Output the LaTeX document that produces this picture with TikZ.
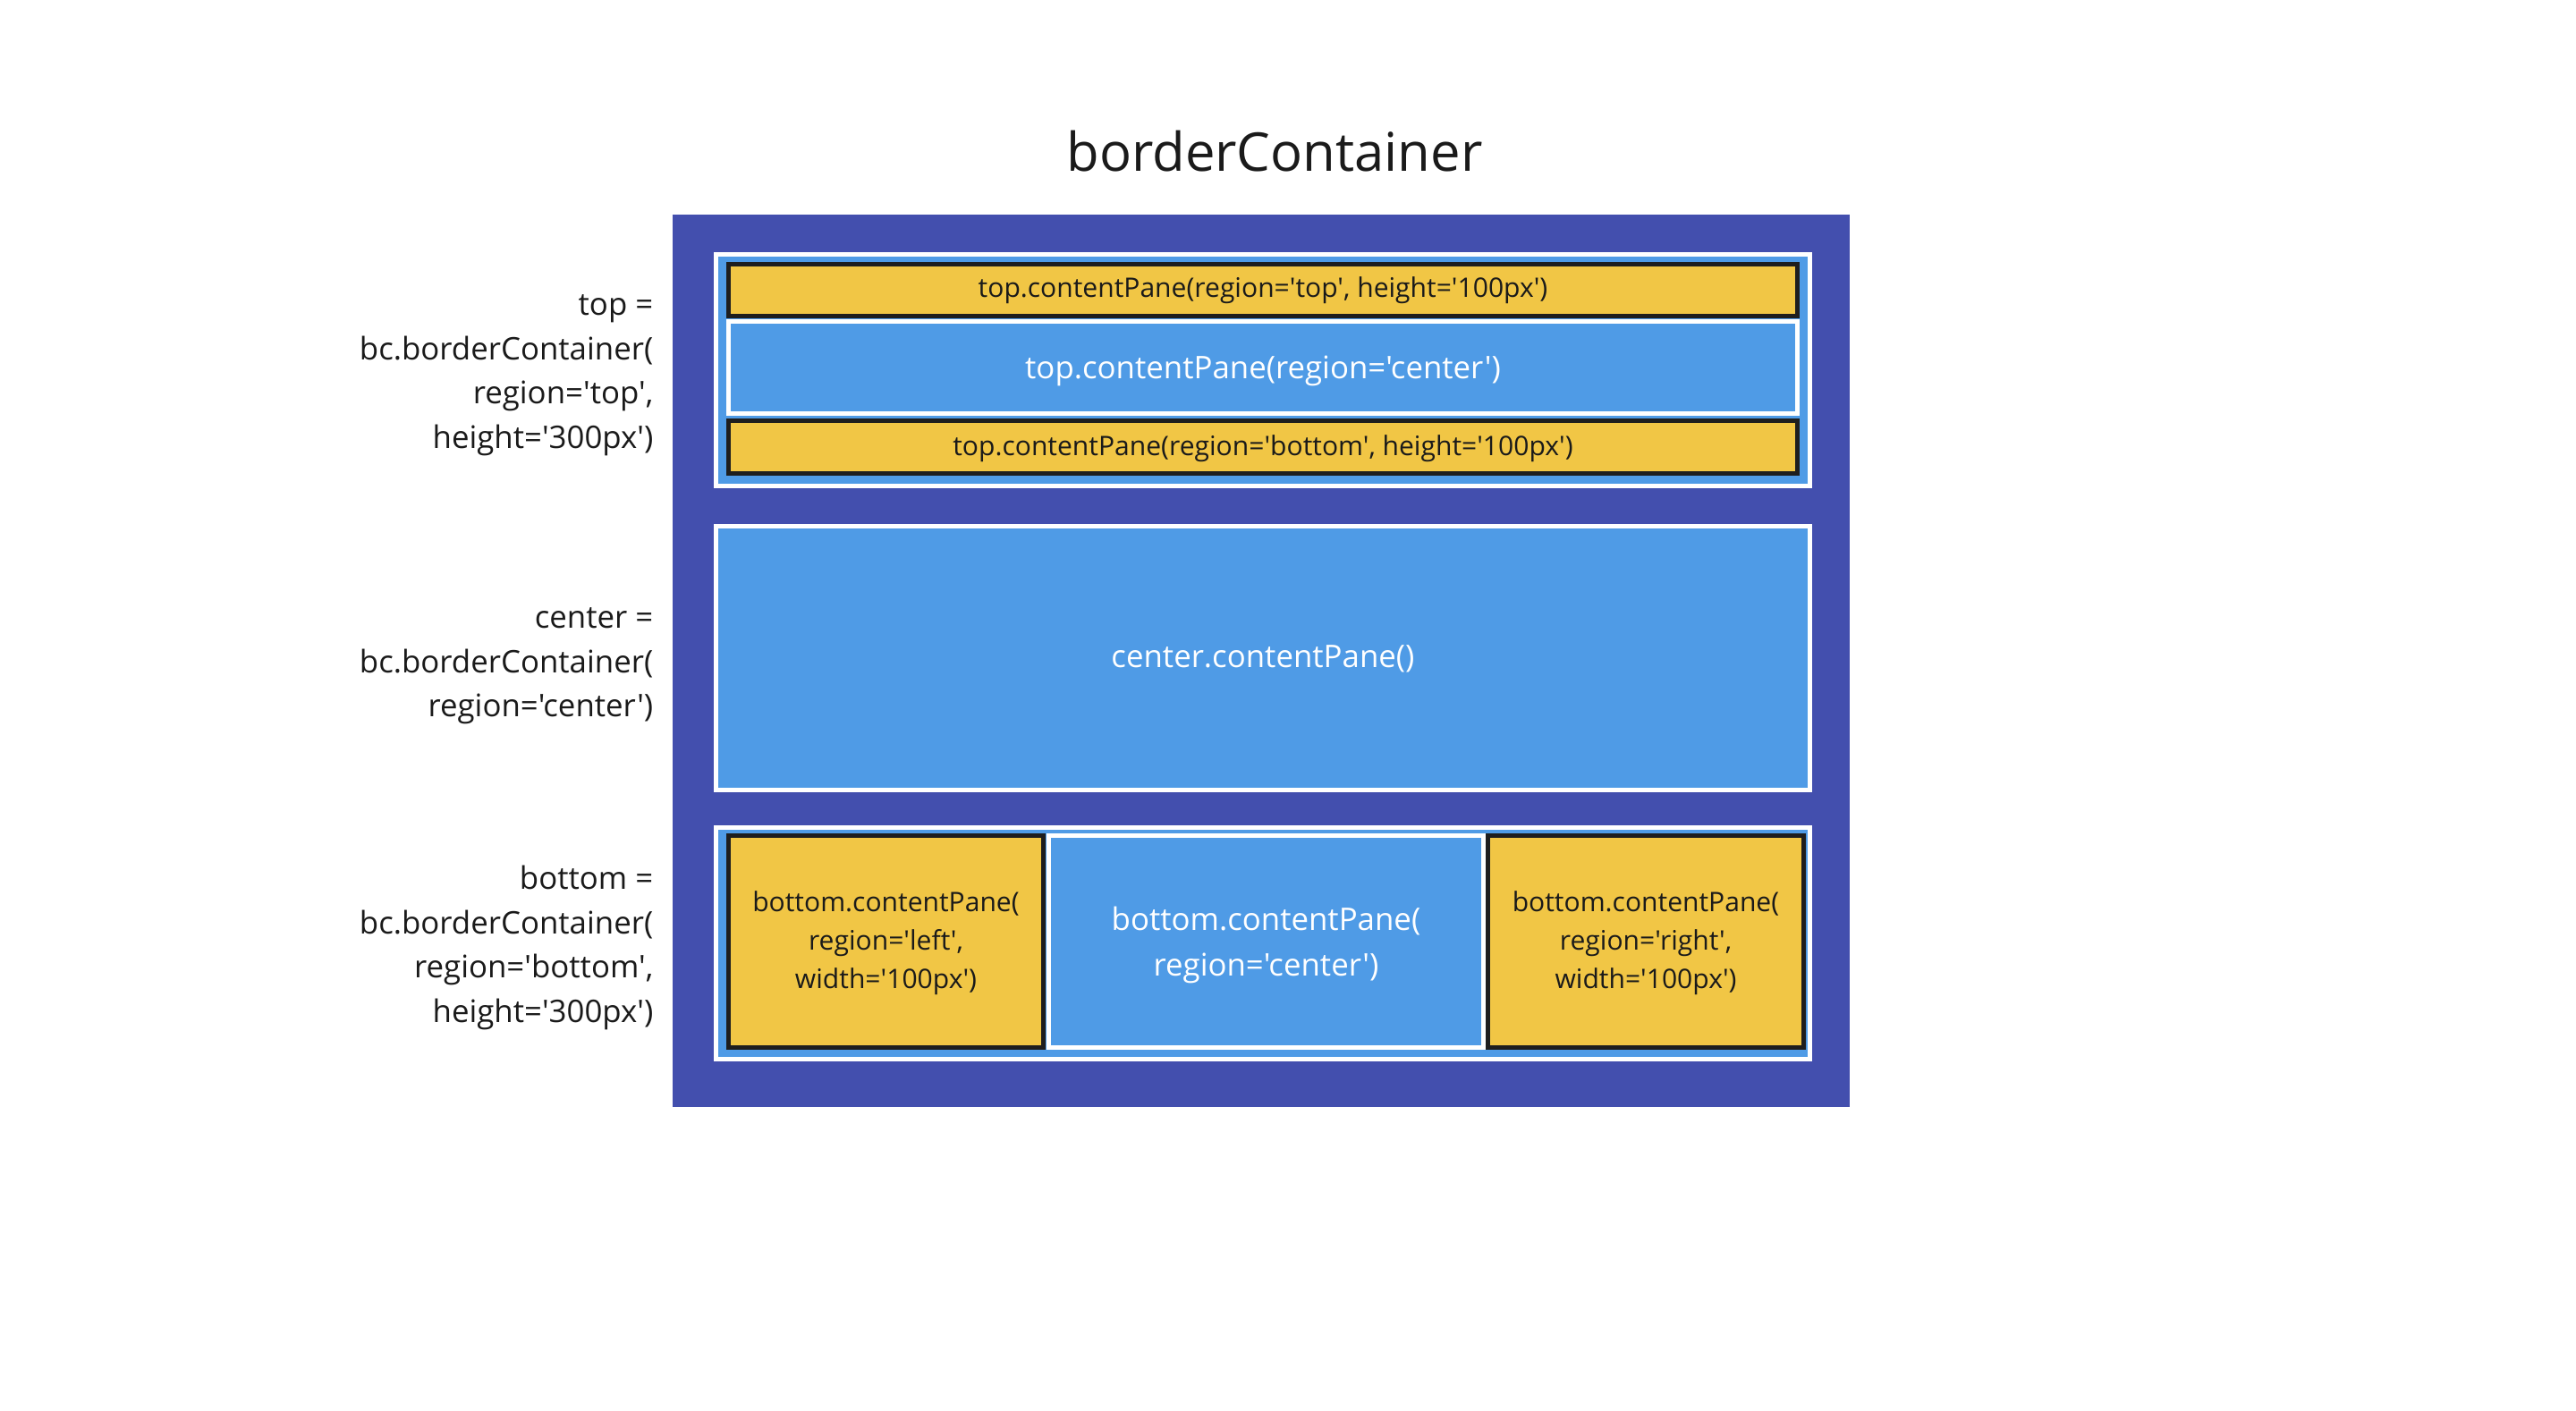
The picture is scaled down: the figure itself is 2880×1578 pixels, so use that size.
\documentclass[tikz,border=0pt]{standalone}
\usepackage{fontspec}
\newfontfamily\osans{Open Sans}
\definecolor{dblue}{HTML}{434FAE}
\definecolor{lblue}{HTML}{4F9BE6}
\definecolor{yell}{HTML}{F1C645}
\definecolor{bdark}{HTML}{1E1E1E}
\definecolor{tdark}{HTML}{1A1A1A}
\tikzset{
  pane/.style={draw=white, line width=1.42pt, fill=lblue, inner sep=0pt, outer sep=0pt},
  ybox/.style={draw=bdark, line width=1.35pt, fill=yell, inner sep=0pt, outer sep=0pt},
  ytext/.style={text=tdark, inner sep=0pt, font=\osans\fontsize{8.55pt}{12.2pt}\selectfont, align=center},
  wtext/.style={text=white, inner sep=0pt, font=\osans\fontsize{9.9pt}{14.5pt}\selectfont, align=center},
  lbl/.style={anchor=east, text=tdark, align=right, font=\osans\fontsize{9.9pt}{14.1pt}\selectfont, inner sep=0pt},
}
\begin{document}
\begin{tikzpicture}[x=0.01cm, y=-0.01cm]
\useasboundingbox (0,0) rectangle (2880,1578);
\fill[white] (0,0) rectangle (2880,1578);
% title
\node[anchor=base, text=tdark, font=\osans\fontsize{17pt}{20pt}\selectfont, inner sep=0pt] (title) at (1425,191.5) {borderContainer};
% outer container
\node[fill=dblue, minimum width=13.16cm, minimum height=9.98cm, inner sep=0pt, outer sep=0pt] (outer) at (1410,739) {};
% top container
\node[pane, minimum width=12.23cm, minimum height=2.59cm] (topc) at (1412,414) {};
\node[ybox, minimum width=11.95cm, minimum height=0.58cm] (topt) at (1412,324.5) {};
\node[pane, minimum width=11.95cm, minimum height=1.03cm] (topm) at (1412,411) {};
\node[ybox, minimum width=11.95cm, minimum height=0.59cm] (topb) at (1412,500) {};
\node[ytext] (topttx) at (1412,324.5) {top.contentPane(region='top', height='100px')};
\node[wtext] (topmtx) at (1412,415) {top.contentPane(region='center')};
\node[ytext] (topbtx) at (1412,502) {top.contentPane(region='bottom', height='100px')};
% center container
\node[pane, minimum width=12.23cm, minimum height=2.95cm] (cenc) at (1412,736) {};
\node[wtext] (cenctx) at (1412,737) {center.contentPane()};
% bottom container
\node[pane, minimum width=12.23cm, minimum height=2.59cm] (botc) at (1412,1055) {};
\node[ybox, minimum width=3.52cm, minimum height=2.37cm] (botl) at (990.5,1053) {};
\node[pane, minimum width=4.86cm, minimum height=2.37cm] (botm) at (1415.5,1053) {};
\node[ybox, minimum width=3.53cm, minimum height=2.37cm] (botr) at (1840,1053) {};
\node[ytext] (botltx) at (990.5,1055) {bottom.contentPane(\\region='left',\\width='100px')};
\node[wtext] (botmtx) at (1415.5,1057) {bottom.contentPane(\\region='center')};
\node[ytext] (botrtx) at (1840,1055) {bottom.contentPane(\\region='right',\\width='100px')};
% left labels
\node[lbl] (ltop) at (731,419.5) {top =\\bc.borderContainer(\\region='top',\\height='300px')};
\node[lbl] (lcen) at (731,745) {center =\\bc.borderContainer(\\region='center')};
\node[lbl] (lbot) at (731,1060) {bottom =\\bc.borderContainer(\\region='bottom',\\height='300px')};
\end{tikzpicture}
\end{document}
